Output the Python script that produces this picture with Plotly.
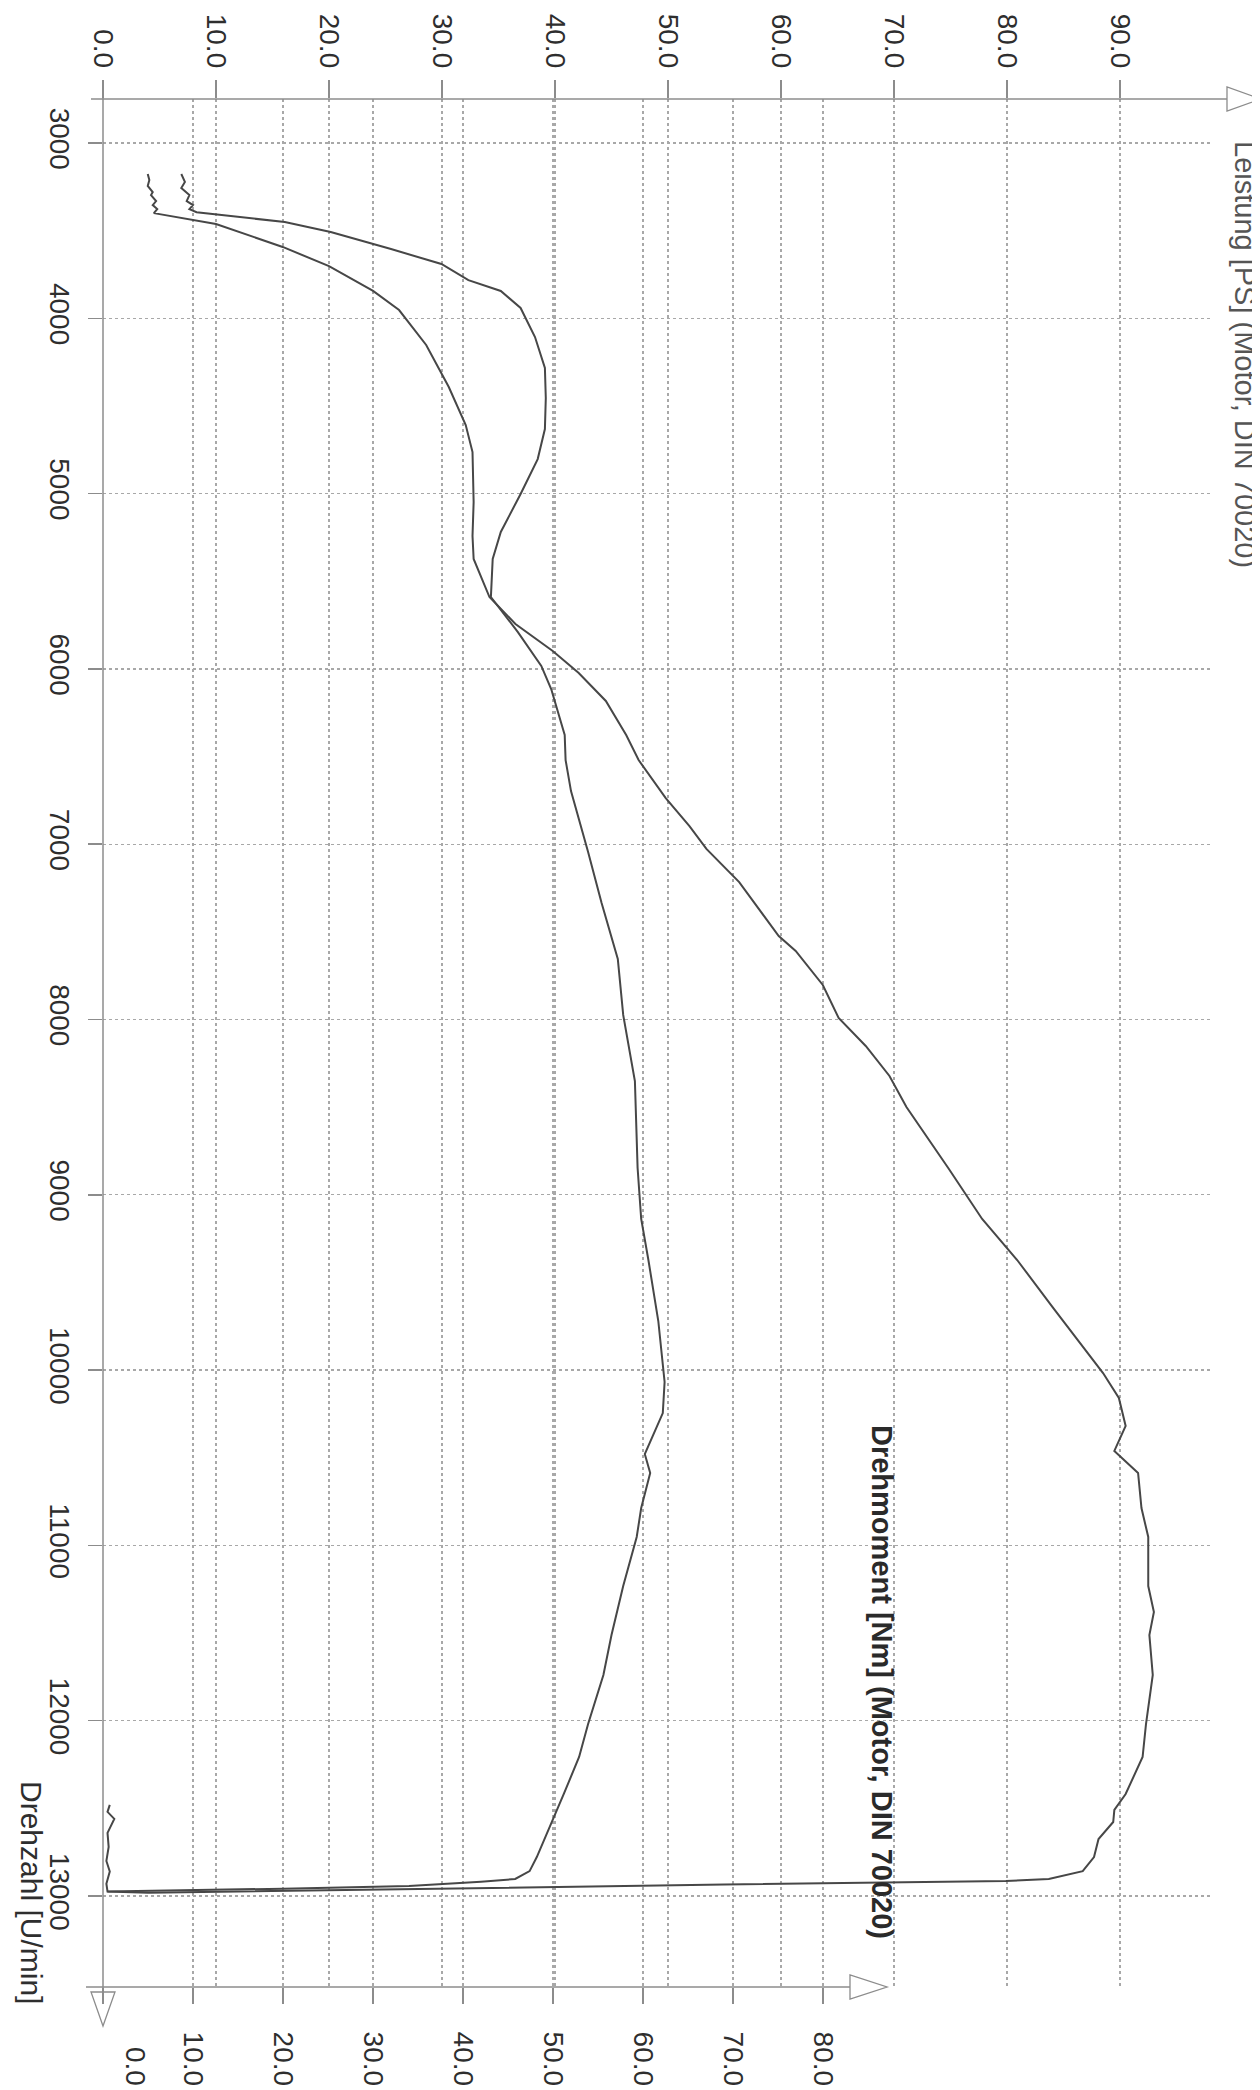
import plotly.graph_objects as go

# ---------------- data (read from the dyno print) ----------------
rpm_power = [3177, 3211, 3245, 3280, 3297, 3331, 3354, 3377, 3400, 3462, 3593, 3702,
             3844, 3953, 4152, 4392, 4609, 4763, 5048, 5242, 5373, 5590, 5744, 5898,
             6023, 6183, 6377, 6520, 6737, 6897, 7027, 7216, 7524, 7609, 7803, 7991,
             8151, 8322, 8499, 8847, 9138, 9372, 9646, 10017, 10159, 10319, 10461,
             10587, 10787, 10952, 11232, 11380, 11511, 11739, 12019, 12207, 12418,
             12509, 12578, 12675, 12778, 12858, 12903, 12914, 12935, 12955, 12972,
             12982, 12975, 12930, 12860, 12800, 12720, 12640, 12560, 12520, 12480]
power_ps = [3.96, 4.1, 3.96, 4.4, 4.25, 4.7, 4.4, 4.8, 4.5, 10.0, 15.9, 20.0,
            23.9, 26.2, 28.6, 30.6, 32.1, 32.7, 32.8, 32.7, 32.8, 34.2, 36.5, 39.8,
            42.1, 44.5, 46.3, 47.4, 49.8, 51.9, 53.4, 56.3, 59.8, 61.3, 63.7, 65.1,
            67.5, 69.6, 71.1, 74.8, 77.8, 80.9, 84.1, 88.5, 89.9, 90.5, 89.5,
            91.6, 91.9, 92.5, 92.5, 93.0, 92.6, 92.9, 92.3, 92.0, 90.5,
            89.5, 89.4, 88.1, 87.7, 86.7, 83.7, 79.9, 55.0, 35.0, 15.0,
            4.0, 0.4, 0.3, 0.6, 0.3, 0.5, 0.4, 1.0, 0.4, 0.6]

rpm_torque = [3177, 3222, 3257, 3297, 3331, 3354, 3377, 3395, 3451, 3508, 3605, 3690,
              3782, 3844, 3941, 4107, 4283, 4455, 4632, 4803, 5002, 5219, 5373, 5590,
              5790, 5983, 6115, 6377, 6520, 6697, 7045, 7336, 7655, 7974, 8351, 8847,
              9138, 9372, 9720, 10068, 10245, 10479, 10587, 10787, 10952, 11232, 11511,
              11739, 12019, 12207, 12418, 12578, 12778, 12858, 12903, 12918, 12943,
              12958, 12970, 12975]
torque_nm = [8.7, 9.1, 8.7, 9.6, 9.3, 10.0, 9.6, 10.4, 20.2, 25.3, 32.0, 37.6,
             40.6, 44.2, 46.4, 48.0, 49.1, 49.2, 49.1, 48.3, 46.4, 44.2, 43.3, 43.1,
             46.1, 48.7, 49.8, 51.3, 51.4, 52.0, 53.9, 55.4, 57.2, 57.8, 59.1, 59.4,
             59.8, 60.6, 61.7, 62.4, 62.2, 60.2, 60.8, 59.8, 59.3, 57.8, 56.5,
             55.6, 53.9, 52.9, 51.2, 49.9, 48.2, 47.4, 45.8, 42.0, 34.0,
             20.0, 6.0, 0.5]

ps_ticks = [0, 10, 20, 30, 40, 50, 60, 70, 80, 90]
nm_ticks = [0, 10, 20, 30, 40, 50, 60, 70, 80]
rpm_ticks = [3000, 4000, 5000, 6000, 7000, 8000, 9000, 10000, 11000, 12000, 13000]

title_power = "Leistung [PS] (Motor, DIN 70020)"
title_torque = "Drehmoment [Nm] (Motor, DIN 70020)"
title_rpm = "Drehzahl [U/min]"

# ---------------- geometry ----------------
W, H = 1260, 2090
L, R, T, B = 95, 1205, 91, 1979          # plot area in pixels
PX_PER_PS = 11.3
PX_PER_NM = 9.0
PX_PER_KRPM = 175.3
Y_3000 = 135

def xp(px):
    return (px - L) / (R - L)

def yp(py):
    return (B - py) / (B - T)

ps_range = [0, (R - L) / PX_PER_PS]
nm_range = [0, (R - L) / PX_PER_NM]
rpm_top = 3000 - (Y_3000 - T) / PX_PER_KRPM * 1000
rpm_bot = 3000 + (B - Y_3000) / PX_PER_KRPM * 1000

FONT = "Liberation Sans, Arial, Helvetica, sans-serif"
LINE = "#474747"
GRID = "#a8a8a8"
AXC = "#8c8c8c"
TXT = "#2e2e2e"

fig = go.Figure()
fig.add_trace(go.Scatter(x=power_ps, y=rpm_power, mode="lines", xaxis="x", yaxis="y",
                         line=dict(color=LINE, width=2), name=title_power, hoverinfo="skip"))
fig.add_trace(go.Scatter(x=torque_nm, y=rpm_torque, mode="lines", xaxis="x2", yaxis="y",
                         line=dict(color=LINE, width=2), name=title_torque, hoverinfo="skip"))

tickfont = dict(family=FONT, size=28, color=TXT)

fig.update_layout(
    width=W, height=H, template="none",
    paper_bgcolor="white", plot_bgcolor="white",
    margin=dict(l=L, r=W - R, t=T, b=H - B, pad=0),
    showlegend=False,
    xaxis=dict(range=ps_range, side="top", anchor="y", tickvals=ps_ticks,
               ticktext=[f"{v:.1f}" for v in ps_ticks], tickangle=90,
               ticks="outside", ticklen=18, tickwidth=1.5, tickcolor=AXC,
               tickfont=tickfont, ticklabelstandoff=2,
               showgrid=True, gridcolor=GRID, griddash="dot", gridwidth=1.2,
               showline=False, zeroline=False, automargin=False, fixedrange=True),
    xaxis2=dict(range=nm_range, side="bottom", anchor="y", overlaying="x",
                tickvals=nm_ticks, ticktext=[""] + [f"{v:.1f}" for v in nm_ticks[1:]],
                tickangle=90, ticks="outside", ticklen=16, tickwidth=1.5, tickcolor=AXC,
                tickfont=tickfont, ticklabelstandoff=22,
                showgrid=True, gridcolor=GRID, griddash="dot", gridwidth=1.2,
                showline=False, zeroline=False, automargin=False, fixedrange=True),
    yaxis=dict(range=[rpm_bot, rpm_top], tickvals=rpm_ticks,
               ticktext=[str(v) for v in rpm_ticks], tickangle=90,
               ticks="outside", ticklen=14, tickwidth=1.5, tickcolor=AXC,
               tickfont=tickfont, ticklabelstandoff=4,
               showgrid=True, gridcolor=GRID, griddash="dot", gridwidth=1.2,
               showline=False, zeroline=False, automargin=False, fixedrange=True),
)

shapes = []
# axis lines
shapes.append(dict(type="line", xref="paper", yref="paper", x0=xp(83), x1=xp(1219),
                   y0=yp(91), y1=yp(91), line=dict(color=AXC, width=1.5)))
shapes.append(dict(type="line", xref="paper", yref="paper", x0=xp(78), x1=xp(842),
                   y0=yp(1979), y1=yp(1979), line=dict(color=AXC, width=1.5)))
shapes.append(dict(type="line", xref="paper", yref="paper", x0=xp(95), x1=xp(95),
                   y0=yp(78), y1=yp(1984), line=dict(color=AXC, width=1.5)))

def tri(pts):
    path = "M " + " L ".join(f"{xp(a):.5f},{yp(b):.5f}" for a, b in pts) + " Z"
    return dict(type="path", xref="paper", yref="paper", path=path,
                line=dict(color=AXC, width=1.3), fillcolor="rgba(0,0,0,0)")

shapes.append(tri([(1219, 79), (1219, 103), (1253, 91)]))   # PS axis arrow
shapes.append(tri([(842, 1967), (842, 1991), (879, 1979)]))   # Nm axis arrow
shapes.append(tri([(83, 1984), (107, 1984), (95, 2018)]))     # rpm axis arrow
fig.update_layout(shapes=shapes)

ann = []
ann.append(dict(text=title_power, xref="paper", yref="paper", x=xp(1237), y=yp(346),
                xanchor="center", yanchor="middle", textangle=90, showarrow=False,
                font=dict(family=FONT, size=29, color="#555555")))
ann.append(dict(text="<b>" + title_torque + "</b>", xref="paper", yref="paper",
                x=xp(874), y=yp(1674), xanchor="center", yanchor="middle", textangle=90,
                showarrow=False, font=dict(family=FONT, size=29, color="#2a2a2a")))
ann.append(dict(text=title_rpm, xref="paper", yref="paper", x=xp(24), y=yp(1884),
                xanchor="center", yanchor="middle", textangle=90, showarrow=False,
                font=dict(family=FONT, size=30, color=TXT)))
ann.append(dict(text="0.0", xref="paper", yref="paper", x=xp(128), y=yp(2058),
                xanchor="center", yanchor="middle", textangle=90, showarrow=False,
                font=tickfont))
fig.update_layout(annotations=ann)

fig.write_html("out.html", config=dict(displayModeBar=False, staticPlot=True))
